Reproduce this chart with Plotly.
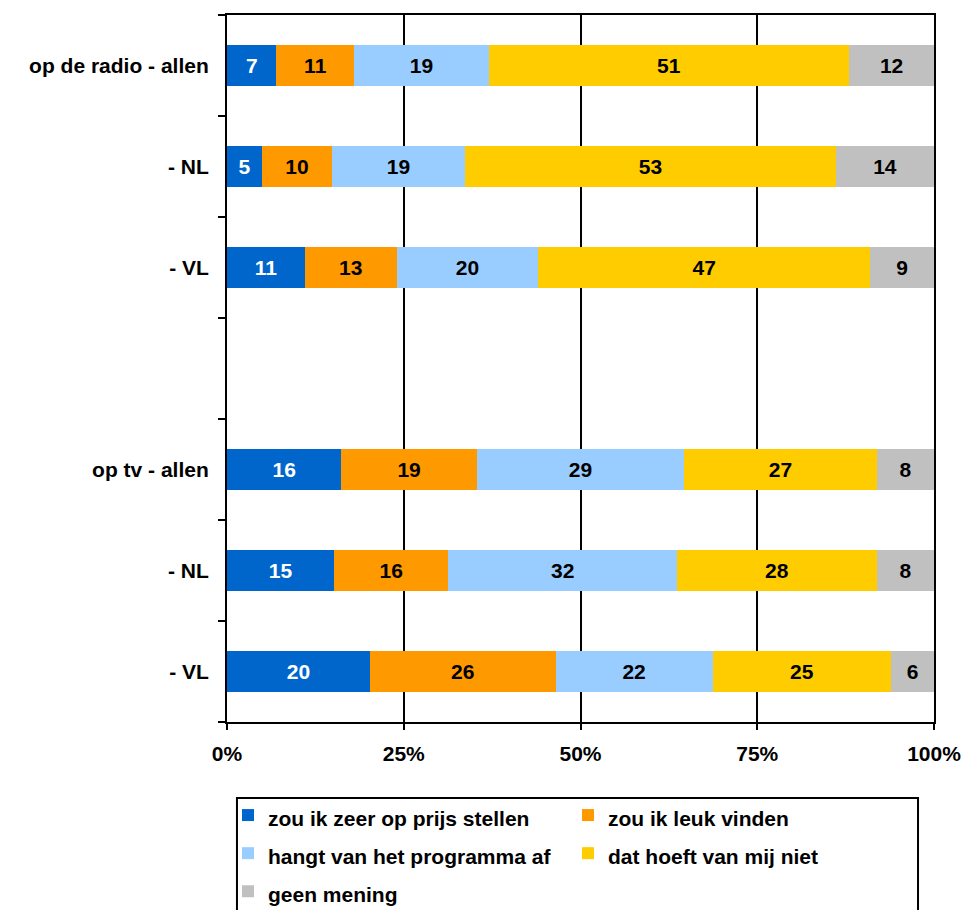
import plotly.graph_objects as go

# Survey answers per group (percentages), top to bottom; slot 3 is an empty spacer row
row_positions = [0, 1, 2, 4, 5, 6]
row_labels = ["op de radio - allen", "- NL", "- VL", "op tv - allen", "- NL", "- VL"]

zeer_op_prijs = [7, 5, 11, 16, 15, 20]
leuk_vinden = [11, 10, 13, 19, 16, 26]
hangt_af = [19, 19, 20, 29, 32, 22]
hoeft_niet = [51, 53, 47, 27, 28, 25]
geen_mening = [12, 14, 9, 8, 8, 6]

series = [
    ("zou ik zeer op prijs stellen", zeer_op_prijs, "#0066CC", "white"),
    ("zou ik leuk vinden", leuk_vinden, "#FF9900", "black"),
    ("hangt van het programma af", hangt_af, "#99CCFF", "black"),
    ("dat hoeft van mij niet", hoeft_niet, "#FFCC00", "black"),
    ("geen mening", geen_mening, "#C0C0C0", "black"),
]

x_ticks = [0, 25, 50, 75, 100]
x_ticktext = ["0%", "25%", "50%", "75%", "100%"]

FONT = "Liberation Sans, Arial, sans-serif"
FS = 21

fig = go.Figure()
for name, vals, color, txtcolor in series:
    fig.add_trace(go.Bar(
        # legend text at normal size; the larger legend font only spaces the rows
        name=f'<span style="font-size:{FS}px">{name}</span>',
        y=row_positions,
        x=vals,
        orientation="h",
        marker=dict(color=color, line=dict(width=0)),
        text=vals,
        texttemplate="%{text}",
        textposition="inside",
        insidetextanchor="middle",
        textangle=0,
        constraintext="none",
        insidetextfont=dict(family=FONT, size=FS, color=txtcolor, weight="bold"),
        hoverinfo="skip",
    ))

# frame around the legend, running off the bottom of the figure
fig.add_shape(
    type="rect", xref="paper", yref="paper",
    x0=0.0141, x1=0.9774, y0=-0.40, y1=-0.1075,
    line=dict(color="black", width=2), fillcolor="rgba(0,0,0,0)", layer="below",
)

fig.update_layout(
    barmode="stack",
    barnorm="percent",
    bargap=0.6,
    width=966,
    height=910,
    margin=dict(l=227, r=32, t=15, b=188, autoexpand=False),
    paper_bgcolor="white",
    plot_bgcolor="white",
    font=dict(family=FONT, size=FS, color="black", weight="bold"),
    xaxis=dict(
        range=[0, 100],
        tickvals=x_ticks,
        ticktext=x_ticktext,
        ticks="outside",
        ticklen=6,
        tickwidth=2,
        tickcolor="black",
        showline=True,
        linecolor="black",
        linewidth=2,
        mirror=True,
        showgrid=True,
        gridcolor="black",
        gridwidth=1.6,
        zeroline=False,
        ticklabelstandoff=6,
        tickfont=dict(family=FONT, size=FS, color="black", weight="bold"),
    ),
    yaxis=dict(
        range=[6.5, -0.5],
        tickvals=row_positions,
        ticktext=row_labels,
        ticks="",
        showline=True,
        linecolor="black",
        linewidth=2,
        mirror=True,
        showgrid=False,
        zeroline=False,
        ticklabelstandoff=12,
        tickfont=dict(family=FONT, size=FS, color="black", weight="bold"),
        minor=dict(
            tickvals=[-0.5, 0.5, 1.5, 2.5, 3.5, 4.5, 5.5, 6.5],
            ticks="outside",
            ticklen=7,
            tickwidth=2,
            tickcolor="black",
            showgrid=False,
        ),
    ),
    legend=dict(
        orientation="h",
        x=0.0014,
        xanchor="left",
        y=-0.0976,
        yanchor="top",
        entrywidth=295,
        entrywidthmode="pixels",
        borderwidth=0,
        bgcolor="rgba(0,0,0,0)",
        traceorder="normal",
        font=dict(family=FONT, size=27, color="black", weight="bold"),
    ),
    showlegend=True,
)

fig.write_html("out.html")
